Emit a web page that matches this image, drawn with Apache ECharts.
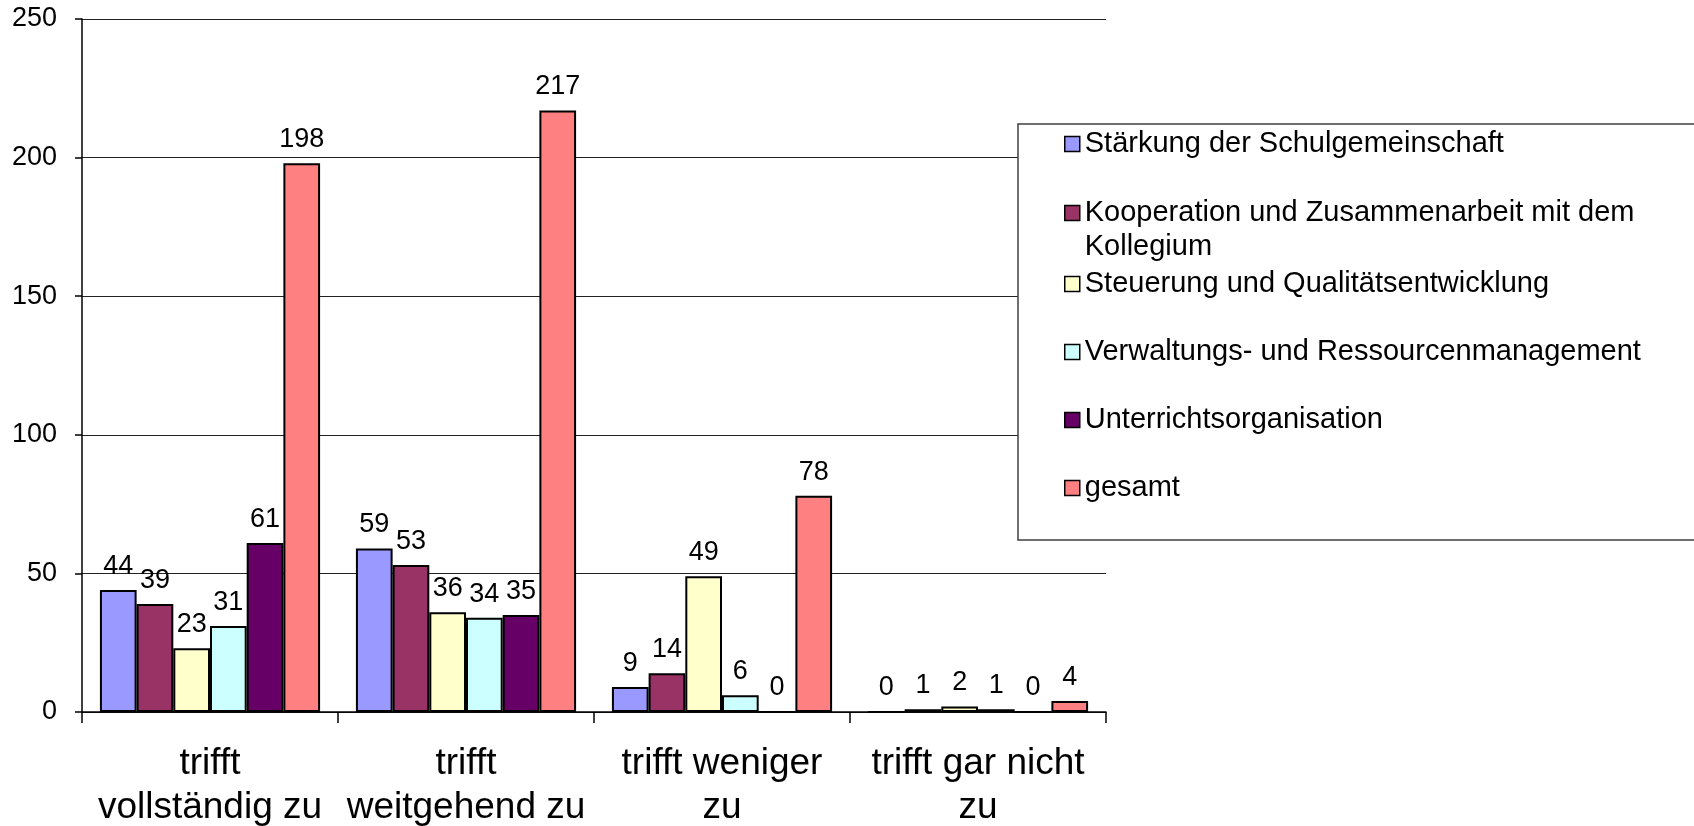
<!DOCTYPE html>
<html>
<head>
<meta charset="utf-8">
<title>Chart</title>
<script src="https://cdn.jsdelivr.net/npm/echarts@6.0.0/dist/echarts.min.js"></script>
<style>
  html, body { margin: 0; padding: 0; background: #fff; }
  #chart { width: 1694px; height: 826px; }
</style>
</head>
<body>
<div id="chart"></div>
<script>
// Kategorien (x-Achse)
var categories = ['trifft\nvollständig zu', 'trifft\nweitgehend zu', 'trifft weniger\nzu', 'trifft gar nicht\nzu']
var seriesNames = [
  'Stärkung der Schulgemeinschaft',
  'Kooperation und Zusammenarbeit mit dem Kollegium',
  'Steuerung und Qualitätsentwicklung',
  'Verwaltungs- und Ressourcenmanagement',
  'Unterrichtsorganisation',
  'gesamt'
]
var staerkung = [44, 59, 9, 0]
var kooperation = [39, 53, 14, 1]
var steuerung = [23, 36, 49, 2]
var verwaltung = [31, 34, 6, 1]
var unterricht = [61, 35, 0, 0]
var gesamt = [198, 217, 78, 4]
var yTicks = [0, 50, 100, 150, 200, 250]

var colors = ['#9999FF', '#993366', '#FFFFCC', '#CCFFFF', '#660066', '#FF8080']
var values = [staerkung, kooperation, steuerung, verwaltung, unterricht, gesamt]
var font = "'Liberation Sans', Arial, sans-serif"

let myChart = echarts.init(document.getElementById('chart'))

let series = values.map(function (data, i) {
  return {
    name: seriesNames[i],
    type: 'bar',
    data: data,
    barGap: '0%',
    barCategoryGap: '14%',
    itemStyle: {
      color: colors[i],
      borderColor: '#000',
      borderWidth: 2
    },
    label: {
      show: true,
      position: 'top',
      distance: 10,
      color: '#000',
      fontSize: 27,
      fontFamily: font
    }
  }
})

var legendBase = {
  orient: 'vertical',
  left: 1064,
  padding: 0,
  itemWidth: 15,
  itemHeight: 15,
  itemGap: 34,
  icon: 'rect',
  itemStyle: { borderColor: '#000', borderWidth: 1.5 },
  textStyle: { fontSize: 29, fontFamily: font, color: '#000', lineHeight: 34 },
  selectedMode: false
}

let option = {
  animation: false,
  textStyle: { fontFamily: font },
  grid: {
    left: 82,
    right: 588,
    top: 19,
    bottom: 114,
    outerBoundsMode: 'none'
  },
  legend: [
    Object.assign({}, legendBase, { top: 127, data: [seriesNames[0]] }),
    Object.assign({}, legendBase, {
      top: 162,
      data: [seriesNames[1]],
      // leere erste Zeile, damit das Symbol auf Höhe der ersten Textzeile sitzt
      formatter: function () { return '\nKooperation und Zusammenarbeit mit dem\nKollegium' }
    }),
    Object.assign({}, legendBase, { top: 267, data: seriesNames.slice(2) })
  ],
  graphic: [
    {
      type: 'rect',
      z: 3,
      shape: { x: 1018, y: 124, width: 700, height: 416 },
      style: { fill: '#fff', stroke: '#404040', lineWidth: 1.5 }
    }
  ],
  xAxis: {
    type: 'category',
    data: categories,
    axisLine: { show: true, lineStyle: { color: '#000', width: 1.5 } },
    axisTick: { show: true, length: 11, lineStyle: { color: '#000', width: 1.5 } },
    axisLabel: {
      margin: 30,
      color: '#000',
      fontSize: 37,
      lineHeight: 44,
      fontFamily: font,
      interval: 0
    },
    splitLine: { show: false }
  },
  yAxis: {
    type: 'value',
    min: yTicks[0],
    max: yTicks[yTicks.length - 1],
    interval: 50,
    axisLine: { show: true, lineStyle: { color: '#000', width: 1.5 } },
    axisTick: { show: true, length: 7, lineStyle: { color: '#000', width: 1.5 } },
    axisLabel: {
      margin: 25,
      color: '#000',
      fontSize: 27,
      fontFamily: font
    },
    splitLine: { show: true, lineStyle: { color: '#222', width: 1 } }
  },
  series: series
}

option && myChart.setOption(option)
window.addEventListener('resize', () => { myChart.resize() })
</script>
</body>
</html>
